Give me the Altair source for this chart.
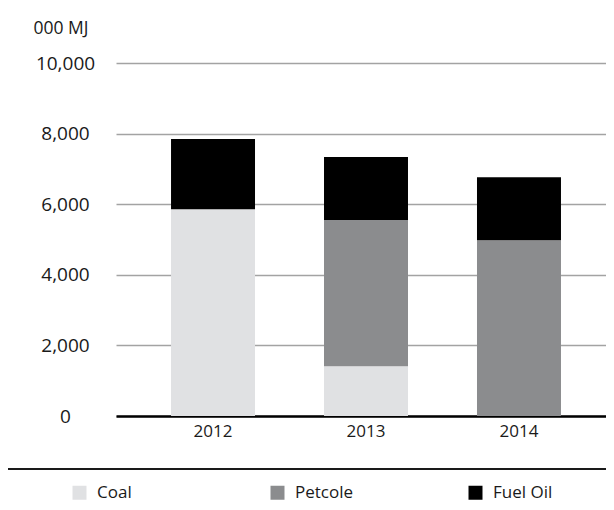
import altair as alt
import pandas as pd

years = ["2012", "2013", "2014"]
fuels = ["Coal", "Petcole", "Fuel Oil"]
coal = [5860, 1410, 0]
petcole = [0, 4140, 4980]
fuel_oil = [1985, 1785, 1785]
colors = ["#e0e1e3", "#8b8c8e", "#000000"]
y_ticks = [0, 2000, 4000, 6000, 8000, 10000]

rows = []
for i, y in enumerate(years):
    for k, (f, vals) in enumerate(zip(fuels, [coal, petcole, fuel_oil])):
        rows.append({"year": y, "fuel": f, "value": vals[i], "idx": k})
df = pd.DataFrame(rows)

FONT = "Open Sans"
TXT = "#1a1a1a"

bars = alt.Chart(df).mark_bar().encode(
    x=alt.X(
        "year:N",
        sort=years,
        title=None,
        scale=alt.Scale(paddingInner=0.451, paddingOuter=0.327, align=0.55),
        axis=alt.Axis(
            labelAngle=0, ticks=False, tickSize=0, labelPadding=7,
            labelFontSize=17, labelFont=FONT, labelColor=TXT,
            domainColor="#000000", domainWidth=2.5, grid=False,
        ),
    ),
    y=alt.Y(
        "value:Q",
        stack="zero",
        scale=alt.Scale(domain=[0, 10000], nice=False),
        axis=alt.Axis(
            values=y_ticks, format=",.0f", ticks=False, tickSize=0, domain=False,
            labelAlign="center", labelPadding=51,
            labelFontSize=19, labelFont=FONT, labelColor=TXT,
            gridColor="#a3a3a3", gridWidth=1.3,
            title="000 MJ", titleAngle=0, titleAlign="left", titleBaseline="middle",
            titleX=-83, titleY=-35, titleFont=FONT, titleFontSize=17.5,
            titleFontWeight="normal", titleColor=TXT,
        ),
    ),
    color=alt.Color(
        "fuel:N",
        scale=alt.Scale(domain=fuels, range=colors),
        legend=alt.Legend(
            title=None, orient="none", legendX=-45, legendY=421,
            direction="horizontal", symbolType="square", symbolSize=196,
            symbolStrokeWidth=0, labelOffset=9, labelFontSize=17,
            labelFont=FONT, labelColor=TXT, columnPadding=112, gridAlign="all",
        ),
    ),
    order=alt.Order("idx:Q", sort="ascending"),
)

rule = alt.Chart(pd.DataFrame({"a": [0]})).mark_rule(
    color="#1a1a1a", strokeWidth=2
).encode(x=alt.value(-108), x2=alt.value(490), y=alt.value(406))

chart = alt.layer(bars, rule).properties(
    width=490,
    height=353,
    autosize=alt.AutoSizeParams(type="none"),
    padding={"left": 108, "top": 55, "right": 0, "bottom": 86},
).configure_view(stroke=None)

chart.save("out.html", embed_options={"renderer": "svg", "actions": False})
